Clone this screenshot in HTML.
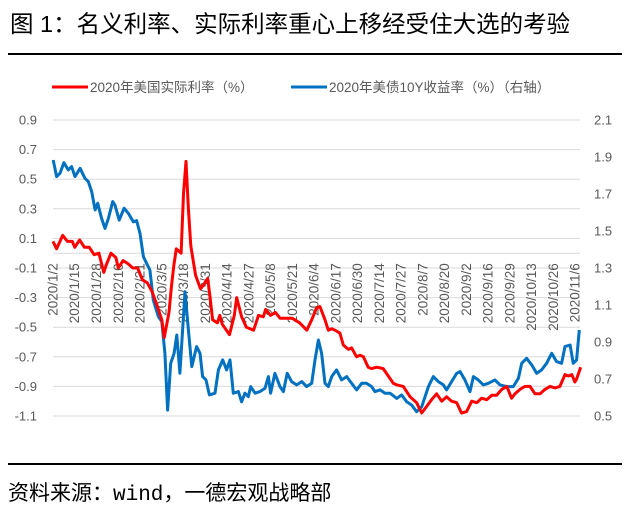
<!DOCTYPE html>
<html><head><meta charset="utf-8">
<style>
body{margin:0;background:#fff;width:632px;height:511px;overflow:hidden;font-family:"Liberation Sans","Noto Sans CJK SC",sans-serif}
svg{display:block}
</style></head>
<body>
<svg id="c" width="632" height="511" viewBox="0 0 632 511">
<text x="10" y="32" font-size="23.5" fill="#000" font-family="Liberation Sans, Noto Sans CJK SC, sans-serif">图 1：名义利率、实际利率重心上移经受住大选的考验</text>
<line x1="8" y1="54" x2="622" y2="54" stroke="#000" stroke-width="2"/>
<g>
<g><line x1="52" y1="87" x2="88" y2="87" stroke="#ff0000" stroke-width="3"/><text x="90" y="92" font-size="13.5" fill="#595959">2020年美国实际利率（%）</text></g>
<g><line x1="291" y1="87" x2="327" y2="87" stroke="#0070c0" stroke-width="3"/><text x="329" y="92" font-size="13.5" fill="#595959">2020年美债10Y收益率（%）（右轴）</text></g>
</g>
<g id="grid"></g>
<g id="yl"></g>
<g id="yr"></g>
<g id="xl"></g>
<g id="series"></g>
<line x1="8" y1="464" x2="622" y2="464" stroke="#000" stroke-width="2"/>
<text x="8" y="500" font-size="21" fill="#000" font-family="Noto Sans CJK SC, sans-serif">资料来源：<tspan font-family="Liberation Mono, monospace">wind</tspan>，一德宏观战略部</text>
</svg>
<script>
const leftTicks=[0.9,0.7,0.5,0.3,0.1,-0.1,-0.3,-0.5,-0.7,-0.9,-1.1];
const rightTicks=[2.1,1.9,1.7,1.5,1.3,1.1,0.9,0.7,0.5];
const dateLabels=["2020/1/2","2020/1/15","2020/1/28","2020/2/10","2020/2/21","2020/3/5","2020/3/18","2020/3/31","2020/4/14","2020/4/27","2020/5/8","2020/5/21","2020/6/4","2020/6/17","2020/6/30","2020/7/14","2020/7/27","2020/8/7","2020/8/20","2020/9/2","2020/9/16","2020/9/29","2020/10/13","2020/10/26","2020/11/6"];
const labelStep=9;
const realDays=[0,1.5,4,6,8,9,11,13,15,17,19,21,22,24,26,27,29,31,33,35,37,39,41,43,45,46,48,49,50,51,53,54,55,56,57,59,61,62,64,65,66,68,69,70,73,75,76,78,80,83,85,87,88,90,92,94,97,99,102,105,107,109,110.4,112.5,113.9,115.3,116.6,118.7,120.1,122.2,123.5,125.6,127,128.4,130.4,131.8,133.9,136.6,138.7,140.8,142.2,144.9,147.7,150.4,152.5,153.9,156.6,158.7,160.8,162.8,164.9,167,169,171.1,173.2,175.3,177.3,179.4,181.5,183.5,185.6,187.7,189.7,191.1,193.2,195.2,197.3,199.4,201.5,203.5,205.6,207.7,209.7,211.8,213.2,214.6,215.9,216.6,218.3];
const realRate=[0.08,0.03,0.12,0.08,0.08,0.04,0.09,0.04,0.04,-0.01,0,-0.13,-0.08,0,-0.03,-0.1,-0.05,-0.07,-0.1,-0.1,-0.18,-0.2,-0.26,-0.35,-0.45,-0.57,-0.4,-0.22,-0.08,0.03,0,0.4,0.62,0.3,0.05,-0.15,-0.24,-0.22,-0.17,-0.3,-0.45,-0.47,-0.42,-0.48,-0.55,-0.42,-0.3,-0.43,-0.5,-0.52,-0.42,-0.43,-0.38,-0.42,-0.4,-0.44,-0.44,-0.44,-0.47,-0.52,-0.45,-0.37,-0.36,-0.45,-0.52,-0.51,-0.52,-0.54,-0.62,-0.65,-0.64,-0.7,-0.69,-0.7,-0.77,-0.78,-0.77,-0.78,-0.83,-0.88,-0.89,-0.9,-0.97,-1.01,-1.08,-1.05,-0.99,-0.95,-1.0,-0.97,-1.0,-1.01,-1.08,-1.07,-1.0,-1.01,-0.98,-0.99,-0.96,-0.96,-0.92,-0.9,-0.98,-0.95,-0.92,-0.9,-0.9,-0.95,-0.95,-0.92,-0.9,-0.91,-0.9,-0.82,-0.83,-0.82,-0.87,-0.85,-0.77];
const yieldDays=[0.1,1.5,2.9,4.5,6.3,7.7,9.1,11.2,13.2,14.6,16,17.4,18.5,20.1,21.5,22.9,24.7,25.6,27.4,29.4,31.2,33.2,34.6,36,37.4,38.7,40.1,41.5,43.6,45,46.3,47.4,48.7,50.1,51.2,52.5,53.6,54.6,56,57.4,59.4,60.8,61.9,63.3,64.7,67,68.4,70.2,71.8,73.2,74.6,76.7,78,79.4,80.8,81.8,83.6,85.6,87.7,89.1,90,91.8,93.9,95.3,96.9,98.7,100.8,102.9,104.9,107,108.4,109.8,111.1,112.5,113.9,115.3,117.3,119.4,121.5,123.5,125.6,127.7,129.7,131.8,133.2,135.3,137.3,139.4,142.2,144.2,146.3,148.4,150.4,152.5,155.3,157.3,159.4,161.5,162.8,164.9,167,168.4,170.4,172.5,173.9,175.9,178,180.1,182.8,184.9,187.7,190.4,192.5,193.9,195.9,198,200.1,202.1,204.2,206.3,208.3,210.4,211.8,213.9,215.2,216.6,217.7];
const yield10y=[1.884,1.794,1.812,1.869,1.83,1.848,1.794,1.839,1.785,1.767,1.713,1.614,1.65,1.568,1.514,1.568,1.659,1.641,1.559,1.623,1.595,1.55,1.556,1.487,1.361,1.325,1.289,1.127,1.037,1.01,0.839,0.532,0.785,0.839,0.938,0.731,0.965,1.172,0.965,0.767,0.875,0.839,0.713,0.695,0.614,0.623,0.749,0.803,0.749,0.803,0.623,0.632,0.577,0.623,0.605,0.659,0.623,0.632,0.65,0.713,0.623,0.731,0.659,0.632,0.731,0.686,0.668,0.686,0.659,0.677,0.803,0.911,0.839,0.677,0.659,0.713,0.749,0.695,0.713,0.677,0.641,0.677,0.677,0.659,0.632,0.641,0.623,0.623,0.595,0.614,0.577,0.559,0.523,0.55,0.659,0.713,0.686,0.668,0.641,0.686,0.731,0.74,0.695,0.632,0.713,0.695,0.668,0.677,0.695,0.668,0.659,0.659,0.704,0.785,0.812,0.776,0.731,0.749,0.785,0.839,0.794,0.785,0.875,0.884,0.785,0.803,0.965];

const NS='http://www.w3.org/2000/svg';
const X0=53,X1=580,DMAX=218,Y0=120,Y1=416;
const xS=d=>X0+(d/DMAX)*(X1-X0);
const yL=v=>Y0+(0.9-v)/(0.9-(-1.1))*(Y1-Y0);
const yR=v=>Y0+(2.1-v)/(2.1-0.5)*(Y1-Y0);
function mk(tag,attrs,parent){const e=document.createElementNS(NS,tag);for(const k in attrs)e.setAttribute(k,attrs[k]);parent.appendChild(e);return e;}
const grid=document.getElementById('grid'),yl=document.getElementById('yl'),yr=document.getElementById('yr'),xl=document.getElementById('xl'),ser=document.getElementById('series');
leftTicks.forEach(v=>{
  const g=mk('line',{x1:X0,x2:X1,y1:yL(v),y2:yL(v),stroke:'#d9d9d9','stroke-width':1},grid);
  
  
  const t=mk('text',{x:37,y:yL(v)+4.5,'text-anchor':'end','font-size':13,fill:'#595959'},yl);
  t.textContent=v.toFixed(1);
  
  
});
rightTicks.forEach(v=>{
  const t=mk('text',{x:594,y:yR(v)+4.5,'font-size':13,fill:'#595959'},yr);
  t.textContent=v.toFixed(1);
  
  
});
const axisY=yL(0);
const ax=mk('line',{x1:X0,x2:X1,y1:axisY,y2:axisY,stroke:'#d9d9d9','stroke-width':1},xl);


dateLabels.forEach((s,i)=>{
  const x=xS(i*labelStep)+4.5,y=axisY+10;
  const t=mk('text',{x:x,y:y,'text-anchor':'end','font-size':13.5,fill:'#595959',transform:`rotate(-90 ${x} ${y})`},xl);
  t.textContent=s;
  
  
});
function line(days,vals,ys,color,name){
  const d=days.map((dd,i)=>(i?'L':'M')+xS(dd).toFixed(1)+','+ys(vals[i]).toFixed(1)).join('');
  const p=mk('path',{d:d,fill:'none',stroke:color,'stroke-width':3,'stroke-linejoin':'round'},ser);
  
  
}
line(yieldDays,yield10y,yR,'#0070c0','yield-10y-line');
line(realDays,realRate,yL,'#ff0000','real-rate-line');
</script>
</body></html>
